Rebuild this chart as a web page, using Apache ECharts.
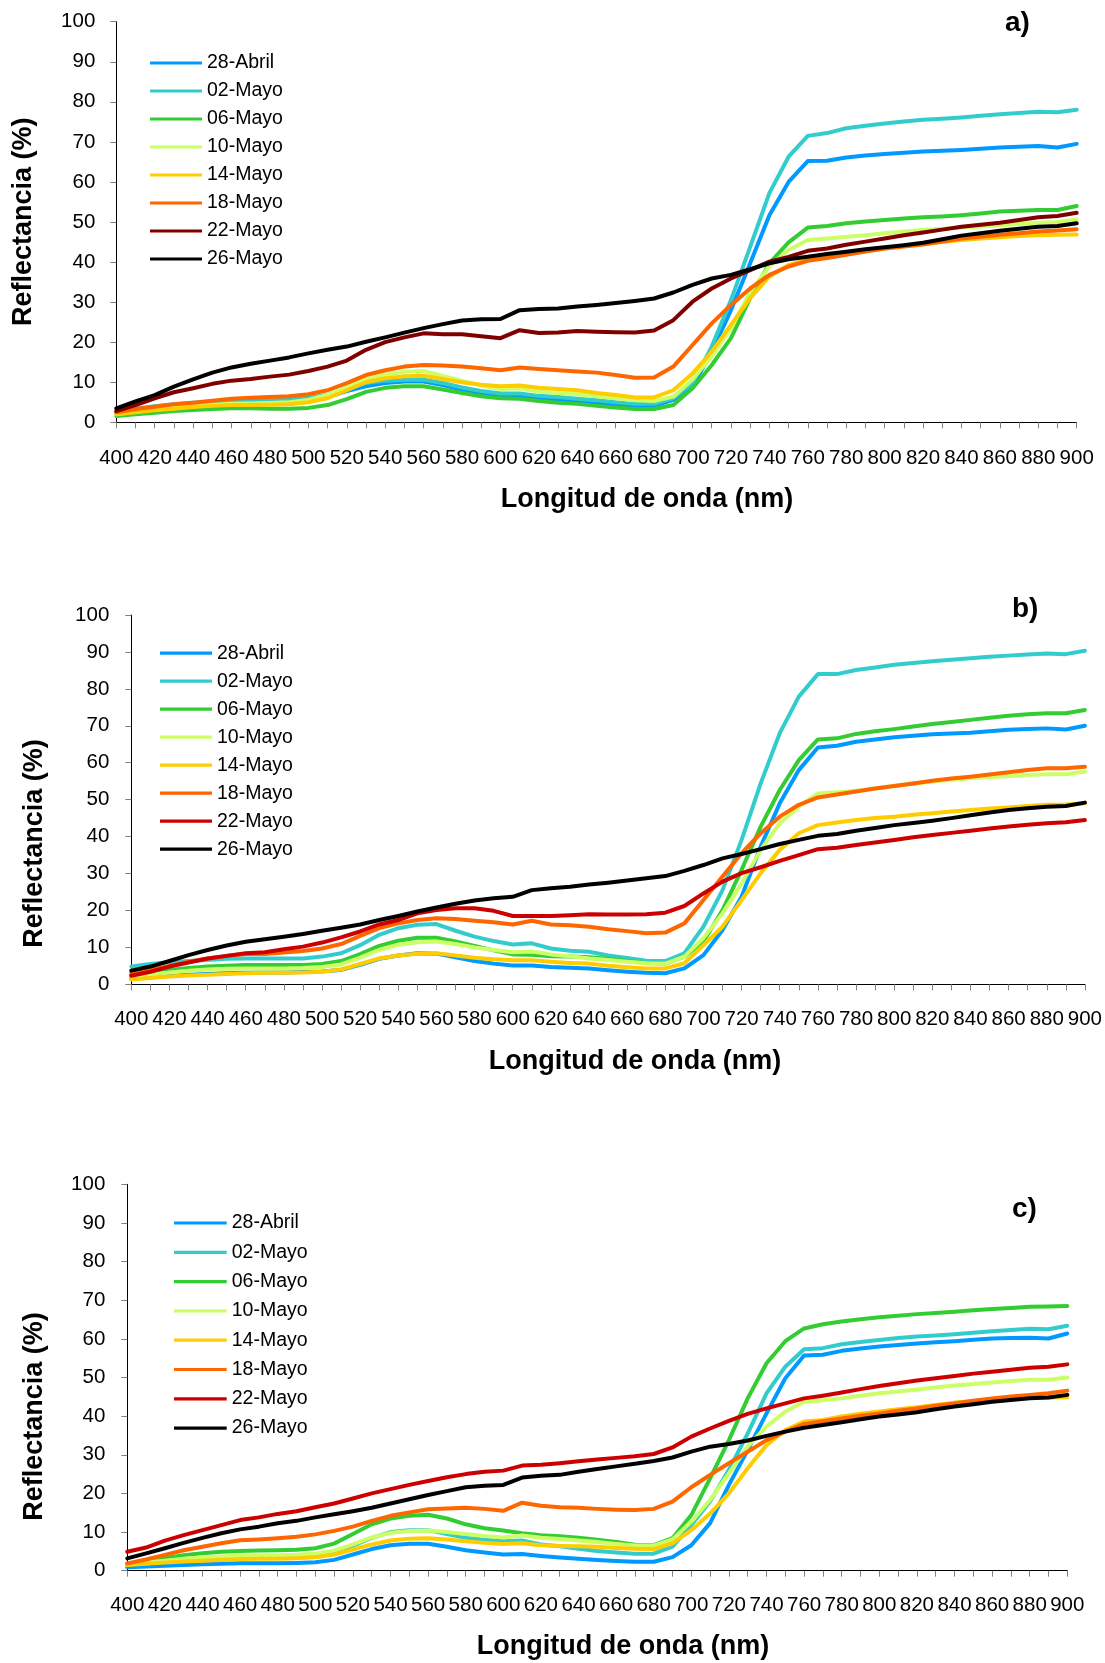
<!DOCTYPE html>
<html>
<head>
<meta charset="utf-8">
<script src="https://cdn.jsdelivr.net/npm/echarts@6/dist/echarts.min.js"></script>
<style>
  html, body { margin: 0; padding: 0; background: #ffffff; }
  #chart { width: 1105px; height: 1663px; }
</style>
</head>
<body>
<div id="chart"></div>
<script>
// Wavelength categories (nm)
const wavelengths = ['400','410','420','430','440','450','460','470','480','490',
  '500','510','520','530','540','550','560','570','580','590',
  '600','610','620','630','640','650','660','670','680','690',
  '700','710','720','730','740','750','760','770','780','790',
  '800','810','820','830','840','850','860','870','880','890','900'];

const dates = ['28-Abril','02-Mayo','06-Mayo','10-Mayo','14-Mayo','18-Mayo','22-Mayo','26-Mayo'];
const panelLabels = ['a)','b)','c)'];

// Panel a) reflectance (%)
const a28Abril = [2.3,3.0,3.8,4.3,4.7,5.0,5.2,5.3,5.3,5.4, 5.6,6.3,7.8,9.0,9.8,10.2,10.2,9.3,8.2,7.3, 6.6,6.7,6.0,5.7,5.3,4.9,4.5,4.1,4.1,5.6, 8.9,17.6,28.0,39.7,51.7,60.0,65.2,65.3,66.1,66.6, 67.0,67.3,67.6,67.8,68.0,68.3,68.6,68.8,69.0,68.6, 69.5];
const a02Mayo = [2.5,3.4,4.0,4.5,4.9,5.2,5.4,5.5,5.6,5.8, 6.1,6.8,8.5,9.8,10.4,10.6,10.6,9.8,8.7,7.8, 7.2,7.2,6.6,6.3,5.9,5.5,5.0,4.6,4.6,6.0, 9.7,18.9,30.5,43.8,57.2,66.3,71.5,72.2,73.4,74.0, 74.6,75.1,75.5,75.8,76.1,76.5,76.9,77.2,77.5,77.4, 78.0];
const a06Mayo = [1.6,2.0,2.4,2.8,3.1,3.3,3.5,3.5,3.4,3.4, 3.6,4.3,5.8,7.6,8.6,9.0,9.0,8.2,7.3,6.5, 6.0,5.9,5.3,4.9,4.6,4.1,3.7,3.3,3.3,4.3, 8.5,14.3,21.0,31.0,39.7,44.9,48.6,49.0,49.7,50.1, 50.5,50.9,51.2,51.4,51.7,52.1,52.6,52.8,53.0,53.0, 54.0];
const a10Mayo = [2.0,2.6,3.2,3.7,4.1,4.4,4.6,4.7,4.8,5.0, 5.6,6.8,8.8,10.8,12.0,12.6,12.8,11.6,10.3,9.2, 8.3,8.5,7.7,7.3,7.0,6.5,6.0,5.5,5.3,6.4, 10.7,16.5,23.5,32.5,39.0,43.0,45.5,45.9,46.3,46.7, 47.2,47.6,48.0,48.3,48.6,48.9,49.2,49.5,49.8,50.0, 50.6];
const a14Mayo = [2.0,2.5,3.0,3.4,3.8,4.1,4.3,4.3,4.4,4.5, 5.0,6.0,8.0,10.0,11.0,11.5,11.6,10.8,10.0,9.4, 9.0,9.2,8.6,8.3,8.0,7.3,6.8,6.2,6.2,8.0, 12.2,17.6,24.3,31.0,36.4,39.3,40.5,41.2,42.0,42.7, 43.4,44.0,44.5,45.0,45.5,45.9,46.2,46.5,46.7,46.8, 46.9];
const a18Mayo = [2.5,3.3,3.9,4.5,4.9,5.4,5.9,6.1,6.3,6.5, 7.0,8.0,9.8,11.8,13.0,13.9,14.3,14.2,13.9,13.5, 13.0,13.7,13.3,13.0,12.7,12.4,11.8,11.1,11.2,13.9, 19.3,24.7,29.3,33.4,36.8,38.9,40.3,41.0,41.8,42.6, 43.4,43.9,44.4,45.1,45.9,46.3,46.8,47.2,47.6,47.9, 48.2];
const a22Mayo = [2.8,4.3,6.0,7.5,8.5,9.6,10.4,10.8,11.4,11.9, 12.8,13.9,15.4,18.1,20.0,21.2,22.2,22.0,22.0,21.5, 21.0,23.0,22.3,22.4,22.8,22.6,22.5,22.4,22.9,25.5, 30.1,33.4,35.9,38.0,40.1,41.3,42.8,43.4,44.3,45.1, 45.9,46.7,47.4,48.1,48.8,49.3,49.8,50.5,51.2,51.5, 52.3];
const a26Mayo = [3.5,5.2,6.8,8.9,10.7,12.4,13.7,14.6,15.4,16.2, 17.2,18.1,18.9,20.1,21.2,22.4,23.5,24.5,25.4,25.7, 25.8,28.0,28.3,28.4,28.9,29.3,29.8,30.3,30.9,32.4, 34.3,35.9,36.8,38.2,39.7,40.7,41.3,42.0,42.6,43.2, 43.7,44.2,44.8,45.7,46.6,47.2,47.8,48.3,48.8,49.0, 49.7];

// Panel b) reflectance (%)
const b28Abril = [1.5,1.9,2.3,2.6,2.8,3.0,3.1,3.2,3.2,3.3, 3.5,3.9,5.3,6.9,7.8,8.4,8.3,7.3,6.3,5.6, 5.1,5.1,4.7,4.5,4.3,3.8,3.4,3.1,3.0,4.3, 7.9,14.7,23.7,37.3,49.0,58.0,64.1,64.6,65.7,66.3, 66.9,67.3,67.7,67.9,68.1,68.5,68.9,69.1,69.3,69.0, 70.0];
const b02Mayo = [4.8,5.5,6.0,6.3,6.6,6.9,7.0,7.0,7.0,7.0, 7.5,8.4,10.6,13.4,15.2,16.1,16.3,14.5,12.9,11.7, 10.8,11.1,9.7,9.1,8.8,7.8,7.1,6.4,6.3,8.4, 15.6,25.5,39.1,54.4,68.0,77.9,84.0,84.0,85.1,85.8, 86.5,87.0,87.5,87.9,88.3,88.7,89.0,89.3,89.6,89.4, 90.3];
const b06Mayo = [2.7,3.3,3.9,4.4,4.8,5.0,5.2,5.2,5.2,5.2, 5.5,6.3,8.2,10.4,11.8,12.6,12.6,11.6,10.4,9.2, 8.1,8.0,7.6,7.5,7.3,6.9,6.3,5.8,5.6,7.5, 11.6,20.1,31.0,42.7,52.6,60.7,66.3,66.6,67.8,68.5, 69.1,69.8,70.5,71.0,71.6,72.2,72.7,73.1,73.4,73.4, 74.3];
const b10Mayo = [2.0,2.6,3.2,3.7,4.0,4.2,4.3,4.3,4.3,4.4, 4.7,5.4,7.2,9.3,10.7,11.4,11.6,10.9,10.0,9.3, 8.7,8.9,8.1,7.6,7.0,6.6,6.1,5.7,5.6,7.5, 12.5,19.2,27.3,36.4,43.6,48.1,51.7,52.0,52.4,53.0, 53.7,54.3,54.9,55.4,55.8,56.1,56.4,56.7,56.9,56.9, 57.6];
const b14Mayo = [1.3,1.7,2.1,2.4,2.6,2.8,3.0,3.1,3.1,3.2, 3.4,4.0,5.5,7.0,7.8,8.3,8.4,7.8,7.2,6.8, 6.5,6.5,6.1,5.8,5.6,5.0,4.6,4.3,4.3,5.7, 10.6,15.6,22.8,30.1,36.4,40.9,43.1,43.8,44.5,45.0, 45.4,45.9,46.3,46.8,47.2,47.6,47.9,48.3,48.6,48.7, 49.0];
const b18Mayo = [3.0,3.9,5.0,6.1,7.0,7.7,8.2,8.2,8.6,9.0, 9.7,10.9,13.1,15.2,16.5,17.4,17.9,17.7,17.2,16.8, 16.2,17.2,16.2,16.0,15.6,14.9,14.4,13.8,14.0,16.5, 22.8,29.2,35.5,40.9,45.4,48.6,50.6,51.4,52.2,53.0, 53.7,54.4,55.1,55.7,56.2,56.8,57.4,58.0,58.5,58.5, 58.9];
const b22Mayo = [2.3,3.4,4.8,5.9,7.0,7.7,8.4,8.7,9.5,10.2, 11.3,12.7,14.3,16.2,17.4,19.2,20.1,20.6,20.6,19.9, 18.5,18.5,18.5,18.7,19.0,18.9,18.9,19.0,19.4,21.2, 24.6,27.8,30.1,31.7,33.4,35.0,36.6,37.0,37.7,38.4, 39.1,39.8,40.4,41.0,41.6,42.2,42.7,43.2,43.6,43.9, 44.5];
const b26Mayo = [3.7,4.8,6.3,7.9,9.3,10.5,11.5,12.2,12.9,13.6, 14.5,15.3,16.2,17.4,18.5,19.7,20.8,21.8,22.7,23.3, 23.7,25.5,26.0,26.4,27.0,27.5,28.1,28.7,29.3,30.7, 32.3,34.1,35.3,36.6,38.0,39.1,40.2,40.7,41.6,42.3, 43.1,43.7,44.3,45.0,45.8,46.5,47.2,47.7,48.1,48.3, 49.2];

// Panel c) reflectance (%)
const c28Abril = [0.9,1.1,1.3,1.5,1.7,1.8,1.9,1.9,1.9,2.0, 2.2,2.8,4.2,5.6,6.6,7.0,7.0,6.2,5.3,4.7, 4.2,4.3,3.8,3.4,3.1,2.8,2.5,2.3,2.3,3.5, 6.6,12.3,22.2,31.2,40.7,49.8,55.7,55.9,56.9,57.5, 58.0,58.4,58.8,59.1,59.4,59.8,60.1,60.2,60.3,60.1, 61.4];
const c02Mayo = [1.5,1.9,2.3,2.7,3.0,3.2,3.4,3.4,3.5,3.6, 3.9,4.7,6.5,8.5,10.0,10.5,10.5,9.5,8.5,8.0, 7.6,7.8,6.8,6.3,5.7,5.1,4.7,4.4,4.4,6.2, 11.8,17.9,26.1,35.5,45.9,52.8,57.3,57.6,58.6,59.2, 59.7,60.2,60.6,60.9,61.2,61.6,62.0,62.3,62.6,62.5, 63.4];
const c06Mayo = [1.8,2.5,3.2,4.0,4.5,4.9,5.1,5.2,5.3,5.4, 5.8,7.0,9.5,12.0,13.5,14.2,14.5,13.5,12.0,11.0, 10.4,9.7,9.2,8.9,8.5,8.0,7.4,6.7,6.6,8.4, 14.4,23.9,33.8,44.6,53.7,59.4,62.7,63.8,64.5,65.1, 65.6,66.0,66.4,66.7,67.0,67.4,67.7,68.0,68.3,68.4, 68.5];
const c10Mayo = [1.6,2.1,2.6,3.1,3.5,3.7,3.9,4.0,4.0,4.1, 4.4,5.2,6.8,8.6,9.8,10.3,10.4,10.0,9.5,9.0, 8.6,9.1,8.5,8.2,7.8,7.4,6.9,6.5,6.5,8.1, 12.7,18.3,25.2,32.1,37.3,41.2,43.7,44.1,44.6,45.3, 45.9,46.4,46.9,47.4,47.9,48.3,48.7,49.1,49.4,49.4, 50.0];
const c14Mayo = [1.5,1.8,2.1,2.4,2.6,2.8,3.0,3.1,3.1,3.2, 3.5,4.2,5.5,6.8,7.8,8.3,8.4,8.1,7.6,7.2, 6.9,7.1,6.6,6.4,6.3,6.2,5.9,5.7,5.6,7.1, 10.5,14.8,20.0,26.5,32.5,36.4,38.6,39.0,39.9,40.6, 41.2,41.8,42.3,42.9,43.5,43.9,44.3,44.6,44.9,44.8, 44.9];
const c18Mayo = [1.9,2.9,4.1,5.3,6.2,7.1,7.9,8.1,8.4,8.8, 9.4,10.3,11.4,12.9,14.2,15.1,15.9,16.1,16.3,16.0, 15.5,17.6,16.8,16.4,16.3,16.0,15.8,15.7,16.0,17.9, 21.6,24.8,27.8,30.8,33.8,36.0,38.0,38.7,39.4,40.1, 40.7,41.4,42.0,42.7,43.3,44.0,44.6,45.1,45.5,45.9, 46.6];
const c22Mayo = [4.9,6.0,7.8,9.2,10.5,11.8,13.1,13.8,14.7,15.4, 16.4,17.4,18.7,20.0,21.1,22.2,23.2,24.2,25.0,25.6, 25.9,27.2,27.4,27.8,28.3,28.8,29.2,29.6,30.2,31.9, 34.7,36.8,38.8,40.6,42.0,43.3,44.6,45.3,46.1,47.0, 47.8,48.5,49.2,49.8,50.4,51.0,51.5,52.0,52.5,52.8, 53.4];
const c26Mayo = [3.2,4.5,5.8,7.2,8.5,9.7,10.7,11.4,12.3,12.9, 13.8,14.6,15.4,16.3,17.4,18.5,19.6,20.6,21.6,22.0, 22.2,24.1,24.6,24.8,25.6,26.3,27.0,27.7,28.4,29.3, 30.8,32.1,32.8,33.7,34.9,36.0,37.0,37.7,38.4,39.2, 39.9,40.4,41.0,41.8,42.5,43.1,43.7,44.2,44.6,44.8, 45.5];

const yTicks = [0,10,20,30,40,50,60,70,80,90,100];

const FONT = '"Liberation Sans", Arial, Helvetica, sans-serif';
const TICK_FONT = 20.5;
const LEGEND_FONT = 19.5;
const TITLE_FONT = 27;

// Line colours per date; 22-Mayo is darker in the first panel
const colorsA = ['#0099FF','#33CCCC','#33CC33','#CCFF66','#FFCC00','#FF6600','#800000','#000000'];
const colorsBC = ['#0099FF','#33CCCC','#33CC33','#CCFF66','#FFCC00','#FF6600','#CC0000','#000000'];

const panels = [
  {
    data: [a28Abril,a02Mayo,a06Mayo,a10Mayo,a14Mayo,a18Mayo,a22Mayo,a26Mayo],
    colors: colorsA,
    grid: { left: 116.3, top: 21.7, width: 960.4, height: 400.6 },
    xMargin: 26, yMargin: 21,
    legend: { left: 150, top: 53, gap: 8, width: 52 },
    xTitle: { x: 647, y: 500 },
    yTitle: { x: 24, y: 221.7 },
    tag: { x: 1005, y: 23 }
  },
  {
    data: [b28Abril,b02Mayo,b06Mayo,b10Mayo,b14Mayo,b18Mayo,b22Mayo,b26Mayo],
    colors: colorsBC,
    grid: { left: 131.3, top: 615, width: 956.2, height: 369.3 },
    xMargin: 25, yMargin: 22,
    legend: { left: 160, top: 643.2, gap: 8, width: 52 },
    xTitle: { x: 635, y: 1062 },
    yTitle: { x: 35, y: 843.5 },
    tag: { x: 1012, y: 609 }
  },
  {
    data: [c28Abril,c02Mayo,c06Mayo,c10Mayo,c14Mayo,c18Mayo,c22Mayo,c26Mayo],
    colors: colorsBC,
    grid: { left: 127.3, top: 1184.3, width: 940, height: 386.4 },
    xMargin: 24.5, yMargin: 22,
    legend: { left: 174, top: 1213, gap: 9.3, width: 52.7 },
    xTitle: { x: 623, y: 1647 },
    yTitle: { x: 35, y: 1416.5 },
    tag: { x: 1012, y: 1209 }
  }
];

const grids = [], xAxes = [], yAxes = [], series = [], legends = [], texts = [];

panels.forEach(function (p, i) {
  grids.push(Object.assign({ containLabel: false }, p.grid));

  xAxes.push({
    type: 'category', gridIndex: i, data: wavelengths, boundaryGap: false,
    axisLine: { show: true, onZero: false, lineStyle: { color: '#000000', width: 1 } },
    axisTick: { show: true, interval: 0, length: 6, lineStyle: { color: '#808080', width: 1 } },
    axisLabel: { interval: 1, margin: p.xMargin, color: '#000000', fontSize: TICK_FONT, fontFamily: FONT },
    splitLine: { show: false }
  });

  yAxes.push({
    type: 'value', gridIndex: i, min: yTicks[0], max: yTicks[yTicks.length - 1], interval: 10,
    axisLine: { show: true, lineStyle: { color: '#000000', width: 1 } },
    axisTick: { show: true, length: 6, lineStyle: { color: '#808080', width: 1 } },
    axisLabel: { margin: p.yMargin, color: '#000000', fontSize: TICK_FONT, fontFamily: FONT },
    splitLine: { show: false }
  });

  dates.forEach(function (name, k) {
    series.push({
      name: name, type: 'line', xAxisIndex: i, yAxisIndex: i,
      data: p.data[k], symbol: 'none', showSymbol: false, smooth: false,
      color: p.colors[k],
      lineStyle: { color: p.colors[k], width: 4, join: 'round', cap: 'round' },
      emphasis: { disabled: true },
      z: 2 + k
    });
  });

  legends.push({
    orient: 'vertical', left: p.legend.left, top: p.legend.top, padding: 0,
    itemGap: p.legend.gap, itemWidth: p.legend.width, itemHeight: 3.2,
    icon: 'rect', selectedMode: false,
    textStyle: { color: '#000000', fontSize: LEGEND_FONT, fontFamily: FONT, lineHeight: 20 },
    data: dates.map(function (name, k) {
      return { name: name, itemStyle: { color: p.colors[k] } };
    })
  });

  texts.push({
    type: 'text', x: p.xTitle.x, y: p.xTitle.y,
    style: { text: 'Longitud de onda (nm)', fill: '#000000', fontSize: TITLE_FONT, fontWeight: 'bold',
             fontFamily: FONT, align: 'center', verticalAlign: 'middle' }
  });
  texts.push({
    type: 'text', x: p.yTitle.x, y: p.yTitle.y, rotation: Math.PI / 2,
    style: { text: 'Reflectancia (%)', fill: '#000000', fontSize: TITLE_FONT, fontWeight: 'bold',
             fontFamily: FONT, align: 'center', verticalAlign: 'middle' }
  });
  texts.push({
    type: 'text', x: p.tag.x, y: p.tag.y,
    style: { text: panelLabels[i], fill: '#000000', fontSize: 28, fontWeight: 'bold',
             fontFamily: FONT, align: 'left', verticalAlign: 'middle' }
  });
});

const chart = echarts.init(document.getElementById('chart'), null, { renderer: 'canvas' });
chart.setOption({
  backgroundColor: '#ffffff',
  animation: false,
  textStyle: { fontFamily: FONT },
  grid: grids,
  xAxis: xAxes,
  yAxis: yAxes,
  legend: legends,
  tooltip: { show: false },
  series: series,
  graphic: { elements: texts }
});
</script>
</body>
</html>
